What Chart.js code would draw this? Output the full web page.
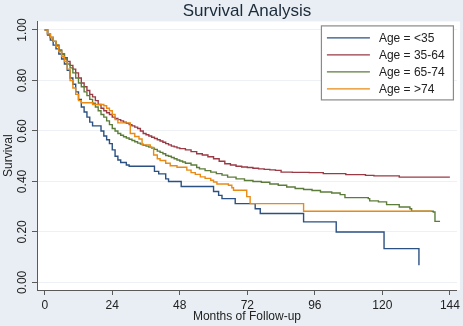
<!DOCTYPE html>
<html>
<head>
<meta charset="utf-8">
<script src="https://cdn.jsdelivr.net/npm/chart.js@4.4.1/dist/chart.umd.min.js"></script>
<style>
  html, body { margin: 0; padding: 0; background: #e8eef3; }
  #wrap { width: 463px; height: 326px; }
</style>
</head>
<body>
<div id="wrap"><canvas id="myChart" width="463" height="326"></canvas></div>
<script>
// Kaplan-Meier estimates (month, survival after the drop)
const monthsLt35 = [0, 1, 2, 3, 4, 5, 6, 7, 8, 9, 10, 11, 12, 13, 14, 15, 16, 17, 20, 21, 22, 23, 24, 25, 26, 27, 29, 30,
  39, 40.5, 43, 44, 48.5, 60, 61.8, 63, 67.7, 74.8, 76.6, 92, 103.6, 120.6, 133];
const survLt35 = [1, .98, .96, .94, .925, .905, .885, .865, .84, .81, .785, .755, .725, .695, .675, .655, .635, .62, .60, .58, .565, .55, .525, .50, .485, .475, .465, .46,
  .44, .43, .41, .40, .38, .36, .345, .332, .312, .292, .273, .24, .20, .134, .068];

const months35to64 = [0, 1, 2, 3, 4, 5, 6, 7, 8, 9, 10, 11, 12, 13, 14, 15, 16, 17, 18, 19, 20, 21, 22, 23, 24, 25, 26, 27, 28, 29,
  30, 31, 32, 33, 34, 35, 36, 37, 38, 39, 40, 41, 42, 43, 44, 45, 46, 47, 48, 50, 52, 54, 56, 58, 60, 62, 64, 66, 68, 70,
  72, 74, 76, 78, 80, 82, 84, 88, 94, 99, 107, 114, 117, 126, 144];
const surv35to64 = [1, .985, .97, .955, .94, .92, .905, .89, .875, .86, .845, .83, .81, .79, .775, .76, .745, .735, .72, .705, .69, .68, .672, .665, .655, .65, .645, .64, .635, .63,
  .625, .62, .615, .61, .60, .59, .585, .58, .575, .57, .565, .56, .555, .55, .545, .54, .537, .533, .53, .525, .518, .51, .505, .498, .49, .48, .47, .465, .46, .457,
  .455, .452, .45, .448, .446, .444, .437, .436, .435, .431, .427, .424, .422, .417, .417];

const months65to74 = [0, 1, 2, 3, 4, 5, 6, 7, 8, 9, 10, 11, 12, 13, 14, 15, 16, 17, 18, 19, 20, 21, 22, 23, 24, 25, 26, 27, 28, 29,
  30, 31, 32, 33, 34, 35, 36, 37, 38, 39, 40, 41, 42, 43, 44, 45, 46, 47, 48, 49, 50, 52, 54, 55, 57, 59, 61, 63, 65, 68,
  71, 74, 77, 80, 83, 86, 89, 92, 95, 98, 102, 105, 106.7, 115, 115.5, 118.6, 121.5, 126, 129.8, 130.4, 138.1, 138.7, 140.5];
const surv65to74 = [1, .985, .97, .955, .94, .92, .905, .885, .865, .85, .83, .81, .79, .775, .755, .74, .725, .71, .695, .68, .665, .655, .64, .625, .61, .60, .59, .583, .577, .572,
  .567, .562, .557, .552, .548, .543, .54, .536, .532, .527, .52, .515, .51, .503, .50, .495, .49, .485, .481, .477, .472, .465, .455, .45, .443, .437, .431, .425, .417, .41,
  .404, .40, .397, .39, .385, .378, .372, .368, .364, .358, .354, .348, .336, .332, .323, .319, .308, .299, .292, .282, .279, .242, .242];

const monthsGt74 = [0, 1, 2, 3, 4, 5, 6, 7, 8, 9, 10, 11, 12, 13, 17, 21, 22, 23, 24, 25, 26, 30.4, 32, 33.5, 34.6, 37.5, 38.7, 40, 41, 43,
  44.6, 47, 50.5, 52, 53.5, 55.3, 57, 59, 60, 61.2, 65.3, 66.5, 67.1, 71.8, 73, 92, 137.5];
const survGt74 = [1, .985, .97, .955, .935, .915, .895, .875, .845, .80, .77, .745, .72, .712, .705, .70, .69, .68, .665, .645, .632, .59, .578, .568, .545, .535, .505, .49, .483, .472,
  .462, .456, .445, .435, .428, .418, .412, .405, .398, .39, .385, .375, .365, .34, .312, .282, .282];

const groupLabels = ['Age = <35', 'Age = 35-64', 'Age = 65-74', 'Age = >74'];
const groupColors = ['#2b5082', '#9a3a45', '#5c7d3a', '#e88a14'];
const xTicks = [0, 24, 48, 72, 96, 120, 144];
const yTicks = [0, 0.2, 0.4, 0.6, 0.8, 1.0];

const FONT = '"Liberation Sans", Arial, sans-serif';
const pairs = (xs, ys) => xs.map((x, i) => ({ x: x, y: ys[i] }));
const series = [
  pairs(monthsLt35, survLt35),
  pairs(months35to64, surv35to64),
  pairs(months65to74, surv65to74),
  pairs(monthsGt74, survGt74)
];

// white plot region behind the curves
const plotBg = {
  id: 'plotBg',
  beforeDraw(chart) {
    const { ctx, chartArea: a } = chart;
    ctx.save();
    ctx.fillStyle = '#ffffff';
    ctx.fillRect(a.left, a.top, a.right - a.left + 3, a.bottom - a.top);
    ctx.restore();
  }
};

// boxed legend in the upper right corner, like Stata
const boxLegend = {
  id: 'boxLegend',
  afterDraw(chart) {
    const { ctx, chartArea: a } = chart;
    const w = 132, h = 74;
    const x0 = a.right - 4 - w, y0 = a.top + 4;
    ctx.save();
    ctx.fillStyle = '#ffffff';
    ctx.fillRect(x0, y0, w, h);
    ctx.strokeStyle = '#8a8a8a';
    ctx.lineWidth = 1.2;
    ctx.strokeRect(x0 + 0.5, y0 + 0.5, w, h);
    ctx.font = '12px ' + FONT;
    ctx.textBaseline = 'middle';
    ctx.fillStyle = '#222';
    chart.data.datasets.forEach((ds, i) => {
      const yy = y0 + 12.5 + i * 17;
      ctx.strokeStyle = ds.borderColor;
      ctx.lineWidth = 1.4;
      ctx.beginPath();
      ctx.moveTo(x0 + 6, yy);
      ctx.lineTo(x0 + 49, yy);
      ctx.stroke();
      ctx.fillText(ds.label, x0 + 58, yy + 0.5);
    });
    ctx.restore();
  }
};

const ctx = document.getElementById('myChart').getContext('2d');
const myChart = new Chart(ctx, {
  type: 'line',
  data: {
    datasets: series.map((pts, i) => ({
      label: groupLabels[i],
      data: pts,
      borderColor: groupColors[i],
      borderWidth: 1.4,
      pointRadius: 0,
      stepped: 'before',
      fill: false,
      order: 3 - i
    }))
  },
  options: {
    responsive: false,
    animation: false,
    layout: { padding: { left: 0, right: 6, top: 0, bottom: 0 } },
    plugins: {
      legend: { display: false },
      tooltip: { enabled: false },
      title: {
        display: true,
        text: 'Survival Analysis',
        fullSize: false,
        color: '#1c2b3a',
        font: { size: 17, family: FONT, weight: 'normal' },
        padding: { top: 1, bottom: 0 }
      }
    },
    scales: {
      x: {
        type: 'linear',
        min: -2.75,
        max: 146.5,
        afterBuildTicks: s => { s.ticks = xTicks.map(v => ({ value: v })); },
        afterFit: s => { s.height = 36; },
        grid: { drawOnChartArea: false, tickLength: 5, tickColor: '#5a5a5a' },
        border: { color: '#5a5a5a', width: 1 },
        ticks: { color: '#222', font: { size: 12, family: FONT }, padding: 3, maxRotation: 0, autoSkip: false },
        title: {
          display: true,
          text: 'Months of Follow-up',
          color: '#222',
          font: { size: 12, family: FONT },
          padding: { top: 0, bottom: 2 }
        }
      },
      y: {
        min: -0.03,
        max: 1.034,
        afterBuildTicks: s => { s.ticks = yTicks.map(v => ({ value: v })); },
        afterFit: s => { s.width = 37; },
        grid: { color: '#edf1f5', tickLength: 5, tickColor: '#5a5a5a' },
        border: { color: '#5a5a5a', width: 1 },
        ticks: {
          color: '#222',
          font: { size: 12, family: FONT },
          padding: -2,
          minRotation: 90,
          maxRotation: 90,
          crossAlign: 'center',
          callback: v => Number(v).toFixed(2)
        },
        title: {
          display: true,
          text: 'Survival',
          color: '#222',
          font: { size: 12, family: FONT },
          padding: { top: 1, bottom: 0 }
        }
      }
    }
  },
  plugins: [plotBg, boxLegend]
});
</script>
</body>
</html>
